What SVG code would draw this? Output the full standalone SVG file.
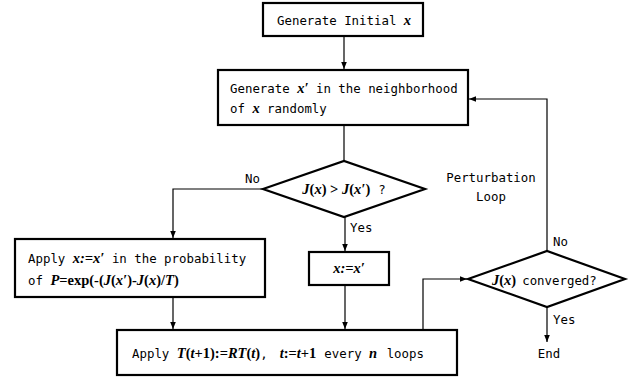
<svg xmlns="http://www.w3.org/2000/svg" width="639" height="380" viewBox="0 0 639 380">
<defs>
<marker id="ah" viewBox="0 0 10 10" refX="10" refY="5" markerWidth="7" markerHeight="7" markerUnits="userSpaceOnUse" orient="auto"><path d="M0,1 L10,5 L0,9 Z" fill="#000"/></marker>
<style>
.box{fill:#fff;stroke:#000;stroke-width:2.2}
.t{font-family:"DejaVu Sans Mono","Liberation Mono",monospace;font-size:12.4px;fill:#000}
.m{font-family:"Liberation Serif",serif;font-style:italic;font-weight:bold;font-size:14.5px}
.r{font-family:"Liberation Serif",serif;font-style:normal;font-weight:bold;font-size:14.5px}
.c{fill:none;stroke:#000;stroke-width:1.2}
</style>
</defs>
<rect width="639" height="380" fill="#fff"/>
<g id="connectors">
<path class="c" d="M344,37 V69" marker-end="url(#ah)"/>
<path class="c" d="M344,125 V160"/>
<path class="c" d="M263,189 H173 V238" marker-end="url(#ah)"/>
<path class="c" d="M345,217 V251" marker-end="url(#ah)"/>
<path class="c" d="M173,297 V329" marker-end="url(#ah)"/>
<path class="c" d="M345,285 V329" marker-end="url(#ah)"/>
<path class="c" d="M423,330 V279 H467" marker-end="url(#ah)"/>
<path class="c" d="M547,251 V99 H469" marker-end="url(#ah)"/>
<path class="c" d="M547,307 V342" marker-end="url(#ah)"/>
</g>
<g id="labels" class="t">
<text x="245" y="183">No</text>
<text x="350" y="232">Yes</text>
<text x="553" y="246">No</text>
<text x="553" y="324">Yes</text>
<text x="491" y="182" text-anchor="middle">Perturbation</text>
<text x="491" y="201" text-anchor="middle">Loop</text>
</g>
<g id="start">
<rect class="box" x="263" y="3" width="160" height="33"/>
<text class="t" x="277" y="25">Generate Initial <tspan class="m">x</tspan></text>
</g>
<g id="generate">
<rect class="box" x="218" y="70" width="250" height="55"/>
<text class="t" x="230" y="93">Generate <tspan class="m">x′</tspan> in the neighborhood</text>
<text class="t" x="230" y="113">of <tspan class="m">x</tspan> randomly</text>
</g>
<g id="compare">
<polygon class="box" points="263,189 344,161 425,189 344,217"/>
<text class="t" x="344" y="194" text-anchor="middle"><tspan class="m" font-weight="normal">J</tspan><tspan class="r" font-weight="normal">(</tspan><tspan class="m" font-weight="normal">x</tspan><tspan class="r" font-weight="normal">) &gt; </tspan><tspan class="m" font-weight="normal">J</tspan><tspan class="r" font-weight="normal">(</tspan><tspan class="m" font-weight="normal">x′</tspan><tspan class="r" font-weight="normal">)</tspan><tspan dx="8">?</tspan></text>
</g>
<g id="prob">
<rect class="box" x="15" y="239" width="250" height="58"/>
<text class="t" x="28" y="263">Apply <tspan class="m">x:=x′</tspan> in the probability</text>
<text class="t" x="28" y="285">of <tspan class="m">P</tspan><tspan class="r">=exp(-(</tspan><tspan class="m">J</tspan><tspan class="r">(</tspan><tspan class="m">x′</tspan><tspan class="r">)-</tspan><tspan class="m">J</tspan><tspan class="r">(</tspan><tspan class="m">x</tspan><tspan class="r">)/</tspan><tspan class="m">T</tspan><tspan class="r">)</tspan></text>
</g>
<g id="assign">
<rect class="box" x="309" y="252" width="80" height="33"/>
<text class="m" x="349" y="273" text-anchor="middle">x:=x′</text>
</g>
<g id="temp">
<rect class="box" x="117" y="330" width="340" height="45"/>
<text class="t" x="132" y="358">Apply <tspan class="m">T</tspan><tspan class="r">(</tspan><tspan class="m">t</tspan><tspan class="r">+1):=</tspan><tspan class="m">RT</tspan><tspan class="r">(</tspan><tspan class="m">t</tspan><tspan class="r">)</tspan>,<tspan class="m" dx="12">t</tspan><tspan class="r">:=</tspan><tspan class="m">t</tspan><tspan class="r">+1</tspan><tspan dx="8">every </tspan><tspan class="m">n</tspan><tspan dx="2"> loops</tspan></text>
</g>
<g id="converged">
<polygon class="box" points="468,279 547,251 625,279 547,307"/>
<text class="t" x="492" y="285"><tspan class="m" font-weight="normal">J</tspan><tspan class="r" font-weight="normal">(</tspan><tspan class="m" font-weight="normal">x</tspan><tspan class="r" font-weight="normal">)</tspan><tspan dx="6">converged?</tspan></text>
</g>
<g id="end">
<text class="t" x="549" y="358" text-anchor="middle">End</text>
</g>
</svg>
